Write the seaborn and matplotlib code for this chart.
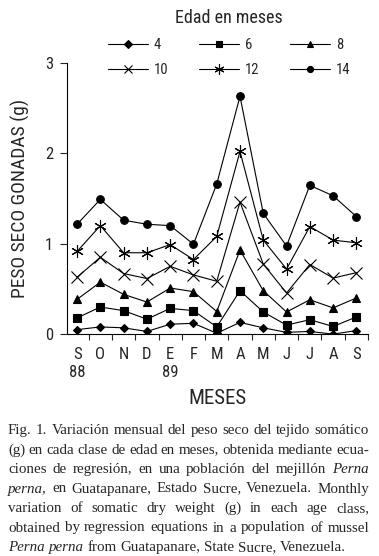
import pandas as pd
import seaborn as sns
import matplotlib.pyplot as plt
from matplotlib import font_manager

meses = ['S', 'O', 'N', 'D', 'E', 'F', 'M', 'A', 'M', 'J', 'J', 'A', 'S']
anios = {0: '88', 4: '89'}
edades = ['4', '6', '8', '10', '12', '14']

# peso seco (g) por clase de edad
m4 = [0.05, 0.08, 0.07, 0.03, 0.11, 0.12, 0.01, 0.13, 0.07, 0.02, 0.03, 0.00, 0.04]
m6 = [0.18, 0.30, 0.26, 0.165, 0.285, 0.26, 0.08, 0.48, 0.245, 0.10, 0.16, 0.085, 0.19]
m8 = [0.385, 0.575, 0.44, 0.355, 0.51, 0.47, 0.25, 0.93, 0.48, 0.245, 0.38, 0.29, 0.40]
m10 = [0.63, 0.85, 0.67, 0.615, 0.75, 0.655, 0.585, 1.46, 0.775, 0.455, 0.77, 0.62, 0.68]
m12 = [0.915, 1.20, 0.90, 0.90, 0.99, 0.825, 1.08, 2.02, 1.04, 0.72, 1.19, 1.04, 1.01]
m14 = [1.215, 1.49, 1.26, 1.215, 1.20, 0.995, 1.66, 2.63, 1.335, 0.975, 1.645, 1.53, 1.30]

caption = [
    "Fig. 1. Variación mensual del peso seco del tejido somático",
    "(g) en cada clase de edad en meses, obtenida mediante ecua-",
    "ciones de regresión, en una población del mejillón _Perna_",
    "_perna,_ en Guatapanare, Estado Sucre, Venezuela. Monthly",
    "variation of somatic dry weight (g) in each age class,",
    "obtained by regression equations in a population of mussel",
    "_Perna_ _perna_ from Guatapanare, State Sucre, Venezuela.",
]


def pick(fams):
    for f in fams:
        try:
            font_manager.findfont(font_manager.FontProperties(family=f), fallback_to_default=False)
            return f
        except ValueError:
            pass
    return 'DejaVu Sans'


def main():
    sns.set_theme(style='ticks')
    narrow = pick(['Liberation Sans Narrow', 'Roboto Condensed', 'Liberation Sans'])
    serif = pick(['Liberation Serif', 'DejaVu Serif'])
    plt.rcParams['font.family'] = [narrow, 'DejaVu Sans']

    series = [m4, m6, m8, m10, m12, m14]
    df = pd.DataFrame({
        'mes': list(range(len(meses))) * len(edades),
        'peso': [v for s in series for v in s],
        'edad': [e for e in edades for _ in meses],
    })

    fig = plt.figure(figsize=(3.79, 5.56), dpi=100)
    ax = fig.add_axes([0.177, 0.399, 0.794, 0.488])

    markers = {'4': 'D', '6': 's', '8': '^', '10': 'x', '12': (6, 2, 0), '14': 'o'}
    sizes = {'4': 4.5, '6': 6, '8': 6, '10': 8, '12': 9, '14': 5.5}
    for e in edades:
        sub = df[df['edad'] == e]
        sns.lineplot(data=sub, x='mes', y='peso', ax=ax, color='black', lw=0.8,
                     marker=markers[e], markersize=sizes[e], markeredgewidth=0.8,
                     markeredgecolor='black', markerfacecolor='black', label=e)

    ax.set_xlim(-0.43, 12.47)
    ax.set_ylim(0, 3)
    ax.set_yticks([0, 1, 2, 3])
    ax.set_xticks(range(len(meses)))
    ax.set_xticklabels([m + ('\n' + anios[i] if i in anios else '') for i, m in enumerate(meses)],
                       fontsize=12, va='top', linespacing=1.3)
    ax.set_xticks([i + 0.5 for i in range(len(meses))], minor=True)
    ax.tick_params(axis='x', which='major', length=0, pad=9)
    ax.tick_params(axis='x', which='minor', length=4, width=0.8, direction='out')
    ax.tick_params(axis='y', length=5, width=0.8, labelsize=12, pad=5)
    for s in ['top', 'right']:
        ax.spines[s].set_visible(False)
    for s in ['left', 'bottom']:
        ax.spines[s].set_linewidth(0.8)
        ax.spines[s].set_color('black')
    ax.set_xlabel('MESES', fontsize=15, labelpad=6)
    ax.set_ylabel('PESO SECO GONADAS (g)', fontsize=14, labelpad=11)

    handles, labels = ax.get_legend_handles_labels()
    ax.get_legend().remove()
    order = [0, 3, 1, 4, 2, 5]
    fig.legend([handles[i] for i in order], [labels[i] for i in order],
               ncol=3, loc='upper center', bbox_to_anchor=(0.605, 1.0),
               title='Edad en meses', title_fontsize=13, fontsize=10.5,
               frameon=False, handlelength=2.75, handletextpad=0.4,
               columnspacing=2.1, labelspacing=0.75, markerscale=0.8,
               borderpad=0.1)

    # caption, justified
    fig.canvas.draw()
    r = fig.canvas.get_renderer()
    W, H = fig.bbox.width, fig.bbox.height
    x0, x1 = 8, 369
    size = 10.8
    for n, line in enumerate(caption):
        y = 1 - (434 + n * 19.5) / H
        words = []
        for w in line.split(' '):
            pieces = w.split('_')
            words.append([(p, k % 2 == 1) for k, p in enumerate(pieces) if p])
        widths = []
        for w in words:
            tw = 0
            for p, it in w:
                t = fig.text(0, 0, p, fontsize=size, family=serif, style='italic' if it else 'normal')
                tw += t.get_window_extent(r).width
                t.remove()
            widths.append(tw)
        sp = fig.text(0, 0, 'a a', fontsize=size, family=serif)
        sa = fig.text(0, 0, 'aa', fontsize=size, family=serif)
        space = sp.get_window_extent(r).width - sa.get_window_extent(r).width
        sp.remove()
        sa.remove()
        if n < len(caption) - 1:
            gap = (x1 - x0 - sum(widths)) / (len(words) - 1)
        else:
            gap = space
        x = x0
        for w, tw in zip(words, widths):
            xx = x
            for p, it in w:
                t = fig.text(xx / W, y, p, fontsize=size, family=serif,
                             style='italic' if it else 'normal', va='baseline')
                xx += t.get_window_extent(r).width
            x += tw + gap

    plt.savefig('out.png', dpi=100)


if __name__ == '__main__':
    main()
